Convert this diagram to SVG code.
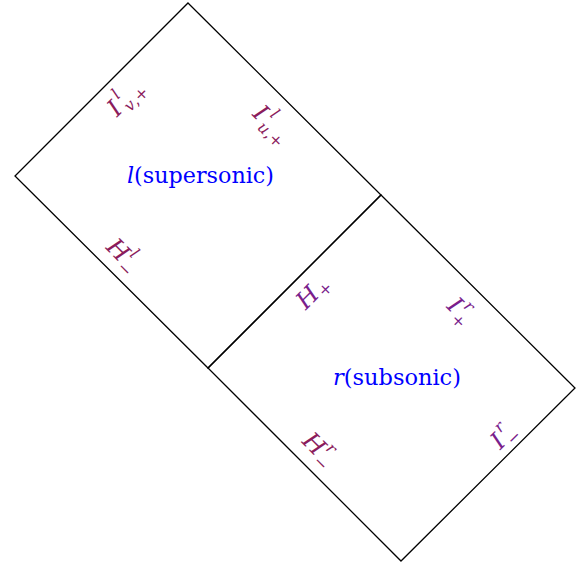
<svg xmlns="http://www.w3.org/2000/svg" width="581" height="565" viewBox="0 0 581 565">
<style>
.edge{fill:none;stroke:#000;stroke-width:1.3;stroke-linejoin:miter}
.m{font-family:"DejaVu Serif","Liberation Serif","Times New Roman",serif;font-style:italic;font-size:24px}
.s{font-family:"DejaVu Serif","Liberation Serif","Times New Roman",serif;font-style:italic;font-size:16px}
.u{font-family:"DejaVu Serif","Liberation Serif","Times New Roman",serif;font-size:16px;font-style:normal}
.c1{fill:#8b1c5c}
.c2{fill:#7a1e8c}
.reg{font-family:"DejaVu Serif","Liberation Serif",serif;font-size:23px;fill:#0000ff}
</style>
<rect width="581" height="565" fill="#fff"/>
<g id="connectors">
<polygon class="edge" points="188,3 381,195 208,368 15,176"/>
<polygon class="edge" points="381,195 575,388 401,561 208,368"/>
</g>
<g id="region-l"><text class="reg" x="127" y="183" textLength="147" lengthAdjust="spacingAndGlyphs"><tspan font-style="italic">l</tspan>(supersonic)</text></g>
<g id="region-r"><text class="reg" x="333" y="385" textLength="128" lengthAdjust="spacingAndGlyphs"><tspan font-style="italic">r</tspan>(subsonic)</text></g>
<g id="I-l-v-plus" class="c1" transform="translate(124,99) rotate(-45)">
<text class="m" x="-18" y="8">I</text><text class="s" x="-5" y="-4">l</text><text class="s" x="-5" y="14">v<tspan class="u">,+</tspan></text>
</g>
<g id="I-l-u-plus" class="c1" transform="translate(270,122) rotate(45)">
<text class="m" x="-18" y="8">I</text><text class="s" x="-5" y="-4">l</text><text class="s" x="-5" y="14">u<tspan class="u">,+</tspan></text>
</g>
<g id="H-l-minus" class="c1" transform="translate(122,254) rotate(45)">
<text class="m" x="-16" y="8">H</text><text class="s" x="6" y="-4">l</text><text class="u" x="6" y="14">−</text>
</g>
<g id="H-plus" class="c2" transform="translate(310,295) rotate(-45)">
<text class="m" x="-14" y="8">H</text><text class="u" x="8" y="12">+</text>
</g>
<g id="I-r-plus" class="c2" transform="translate(460,310) rotate(45)">
<text class="m" x="-12" y="8">I</text><text class="s" x="0" y="-4">r</text><text class="u" x="0" y="14">+</text>
</g>
<g id="H-r-minus" class="c1" transform="translate(318,448) rotate(45)">
<text class="m" x="-16" y="8">H</text><text class="s" x="6" y="-4">r</text><text class="u" x="6" y="14">−</text>
</g>
<g id="I-r-minus" class="c2" transform="translate(503,436) rotate(-45)">
<text class="m" x="-12" y="8">I</text><text class="s" x="0" y="-4">r</text><text class="u" x="0" y="14">−</text>
</g>
</svg>
